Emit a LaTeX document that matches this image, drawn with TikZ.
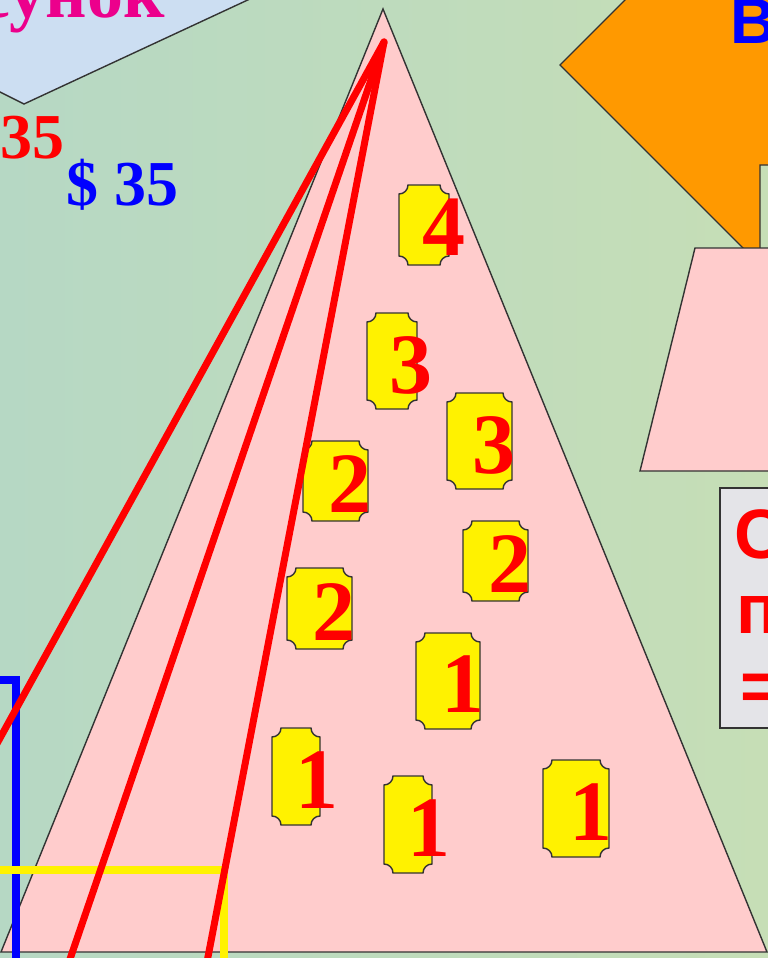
\documentclass[tikz,border=0pt]{standalone}
\usepackage{fontspec}
\setmainfont{Liberation Serif}
\newfontfamily\sansgras{Liberation Sans}
\usepackage{tikz}
\definecolor{fondvert}{RGB}{198,222,182}
\definecolor{fondbleu}{RGB}{182,216,196}
\definecolor{ciel}{RGB}{204,222,242}
\definecolor{rose}{RGB}{255,204,204}
\definecolor{orangevif}{RGB}{255,153,0}
\definecolor{gristexture}{RGB}{228,228,232}
\definecolor{trait}{RGB}{51,51,51}

\newcommand{\plaque}[4]{%
  \filldraw[bord, fill=yellow] (#1+9,#2) -- (#3-9,#2)
    .. controls (#3-9,#2+5) and (#3-5,#2+9) .. (#3,#2+9)
    -- (#3,#4-9)
    .. controls (#3-5,#4-9) and (#3-9,#4-5) .. (#3-9,#4)
    -- (#1+9,#4)
    .. controls (#1+9,#4-5) and (#1+5,#4-9) .. (#1,#4-9)
    -- (#1,#2+9)
    .. controls (#1+5,#2+9) and (#1+9,#2+5) .. cycle;}

\tikzset{
  bord/.style={draw=trait, line width=1.4pt},
  ligne/.style={red, line width=7pt, line cap=round},
  chiffre/.style={text=red, inner sep=0pt, anchor=base,
    font=\fontsize{86}{86}\selectfont\bfseries},
  prix/.style={inner sep=0pt, anchor=base,
    font=\fontsize{64}{64}\selectfont\bfseries},
  reponse/.style={text=red, inner sep=0pt, anchor=base west,
    font=\sansgras\bfseries\fontsize{70}{70}\selectfont}
}

\begin{document}
\begin{tikzpicture}[x=1pt, y=-1pt]
    \useasboundingbox (0,0) rectangle (768,958);
    \clip (0,0) rectangle (768,958);
    % Fond
    \shade[left color=fondbleu, right color=fondvert] (0,0) rectangle (768,958);
    % Bandeau bleu clair
    \fill[ciel] (-2,-2) -- (-2,91) -- (24,104) -- (252,-2) -- cycle;
    \draw[bord] (-2,91) -- (24,104) -- (252,-2);
    \node[text=magenta, inner sep=0pt, anchor=base east,
      font=\fontsize{72}{72}\selectfont\bfseries] (titre) at (165,18) {Рисунок};
    % Prix
    \node[prix, text=red] (prixrouge) at (33,158) {35};
    \node[prix, text=blue] (prixbleu) at (122,205) {\$ 35};
    % Fleche orange
    \filldraw[bord, fill=orangevif] (760,-135) -- (560,65) -- (760,265)
      -- (760,165) -- (800,165) -- (800,-135) -- cycle;
    \node[text=blue, inner sep=0pt, anchor=base west,
      font=\sansgras\bfseries\fontsize{64}{64}\selectfont] (lettre) at (730,44) {В};
    % Trapeze rose
    \filldraw[bord, fill=rose] (695,248) -- (640,471) -- (800,471) -- (800,248) -- cycle;
    % Cadre gris
    \filldraw[bord, fill=gristexture] (720,488) rectangle (800,728);
    \node[reponse] (rep1) at (734,558) {С};
    \node[reponse] (rep2) at (736,633) {п};
    \node[reponse] (rep3) at (740,710) {=};
    % Grand triangle
    \filldraw[bord, fill=rose] (383,9) -- (1,952) -- (767,952) -- cycle;
    % Traits bleu et jaune
    \draw[blue, line width=7.5pt] (-10,680) -- (16,680) -- (16,970);
    \draw[yellow, line width=7.5pt] (-10,870) -- (224,870) -- (224,970);
    % Etiquettes
    \foreach \xa/\ya/\xb/\yb in {399/185/449/265, 367/313/417/409, 447/393/512/489,
        303/441/368/521, 463/521/528/601, 287/568/352/649, 416/633/480/729,
        272/728/320/825, 384/776/432/873, 543/760/609/857}
      \plaque{\xa}{\ya}{\xb}{\yb};
    % Lignes rouges
    \coordinate (sommet) at (384,42);
    \coordinate (basa) at (-6,749);
    \coordinate (basb) at (69,962);
    \coordinate (basc) at (207,962);
    \draw[ligne] (sommet) -- (basa);
    \draw[ligne] (sommet) -- (basb);
    \draw[ligne] (sommet) -- (basc);
    % Chiffres
    \node[chiffre] (q4) at (443.5,255) {4};
    \node[chiffre] (q3a) at (410.5,393) {3};
    \node[chiffre] (q3b) at (493.5,473) {3};
    \node[chiffre] (q2a) at (349.5,512) {2};
    \node[chiffre] (q2b) at (509.5,592) {2};
    \node[chiffre] (q2c) at (334,640) {2};
    \node[chiffre] (q1a) at (462.5,712) {1};
    \node[chiffre] (q1b) at (316.5,808) {1};
    \node[chiffre] (q1c) at (428.5,856) {1};
    \node[chiffre] (q1d) at (591,840) {1};
\end{tikzpicture}
\end{document}
